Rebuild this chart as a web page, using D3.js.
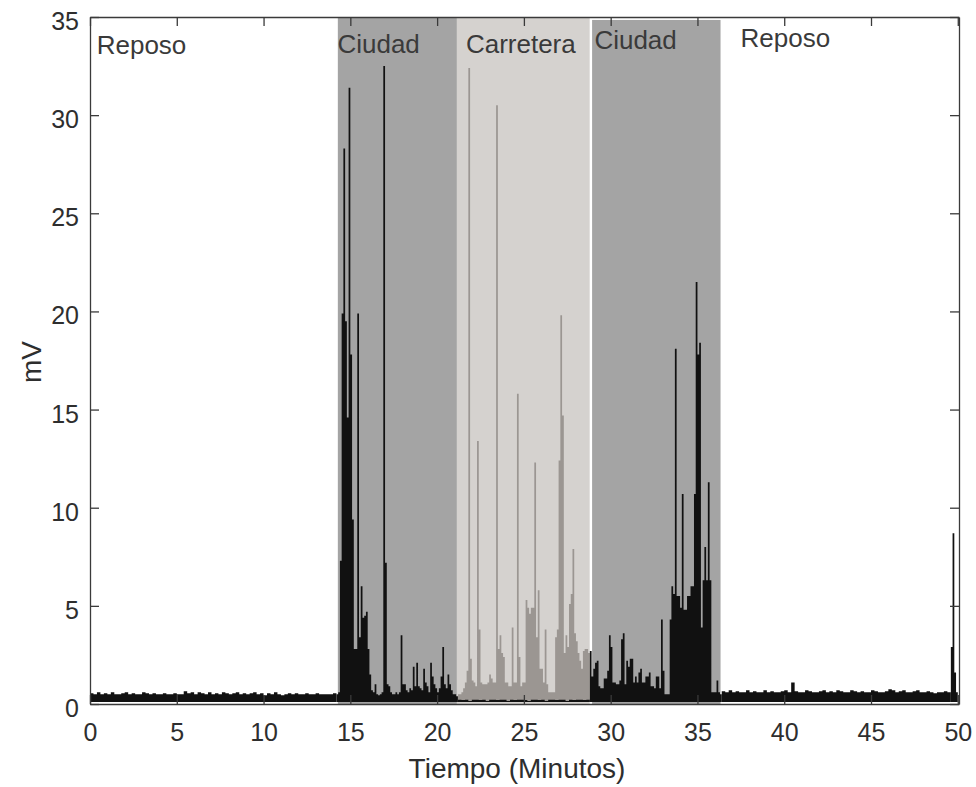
<!DOCTYPE html>
<html>
<head>
<meta charset="utf-8">
<script src="https://cdn.jsdelivr.net/npm/d3@7"></script>
<style>
  html, body { margin: 0; padding: 0; background: #ffffff; }
  svg { display: block; }
  text { font-family: "Liberation Sans", Arial, sans-serif; }
</style>
</head>
<body>
<svg id="chart" width="976" height="787"></svg>
<script>
// ---------------- DATA ----------------
const xTicks = [0, 5, 10, 15, 20, 25, 30, 35, 40, 45, 50];
const yTicks = [0, 5, 10, 15, 20, 25, 30, 35];

// condition periods (minutes)
const regionNames = ["Reposo", "Ciudad", "Carretera", "Ciudad", "Reposo"];
const regionStart = [0, 14.28, 21.14, 28.93, 36.33];
const regionEnd   = [14.28, 21.14, 28.79, 36.33, 50.07];
const regionTop   = [35, 35, 35, 34.85, 35];

// signal minimum (mV)
const signalFloor = 0.1;

// EMG envelope values (mV), each segment: start minute, step (minutes), values
const reposo1Start = 0, reposo1Step = 0.2;
const reposo1 = [0.55,0.5,0.6,0.5,0.55,0.5,0.6,0.5,0.5,0.55,0.6,0.5,0.55,0.5,0.5,0.6,0.55,0.5,0.55,0.5,
  0.5,0.55,0.5,0.5,0.55,0.5,0.5,0.65,0.55,0.6,0.5,0.6,0.55,0.5,0.6,0.5,0.55,0.5,0.6,0.55,
  0.5,0.55,0.6,0.5,0.55,0.5,0.55,0.6,0.5,0.55,0.45,0.55,0.5,0.6,0.5,0.45,0.5,0.55,0.5,0.55,
  0.5,0.5,0.55,0.5,0.5,0.55,0.5,0.5,0.5,0.5,0.55];

const ciudad1Start = 14.2, ciudad1Step = 0.1;
const ciudad1 = [0.5,0.6,7.3,19.9,28.3,19.5,14.6,31.4,17.8,9.4,2.8,2.8,19.9,3.4,6.0,4.4,4.5,4.7,2.8,1.5,
  0.7,0.6,1.0,0.5,0.45,0.5,0.6,32.5,7.2,1.0,0.9,0.6,0.5,0.5,0.6,0.5,0.6,3.5,1.0,1.0,
  0.7,0.6,0.8,0.7,1.9,0.9,2.1,0.9,0.8,0.7,1.8,1.1,0.9,0.6,2.1,1.4,1.0,0.8,0.6,0.8,
  1.4,2.9,1.0,0.8,1.5,1.0,0.7,0.5,0.5,0.4];

const carreteraStart = 21.2, carreteraStep = 0.1;
const carretera = [0.5,0.5,0.6,0.8,1.1,1.7,32.4,2.3,1.2,1.1,0.9,13.4,3.8,1.1,1.0,1.0,1.0,1.1,1.5,1.3,
  1.1,1.1,30.5,2.8,3.5,2.6,2.4,1.1,1.1,0.9,0.9,3.9,1.1,1.1,15.8,2.4,0.9,1.1,1.1,5.3,
  4.9,4.6,4.9,4.9,12.3,3.4,5.8,1.8,1.8,1.1,3.8,1.0,0.6,0.6,0.6,0.6,3.4,3.8,12.4,19.8,
  14.7,2.6,3.5,2.9,5.1,5.6,7.9,3.6,3.2,2.6,2.2,1.8,2.7,2.8,2.8,2.6];

// low-level black trace under the Carretera segment (mV), step 0.2 from 21.2
const carreteraLowStart = 21.2, carreteraLowStep = 0.2;
const carreteraLow = [0.22,0.2,0.22,0.15,0.22,0.22,0.2,0.22,0.15,0.22,0.22,0.2,0.22,0.22,0.15,0.22,0.2,0.22,0.22,0.2,
  0.15,0.22,0.22,0.2,0.22,0.15,0.22,0.22,0.2,0.22,0.22,0.15,0.22,0.2,0.22,0.22,0.2,0.22];

const ciudad2Start = 28.8, ciudad2Step = 0.1;
const ciudad2 = [2.7,1.4,1.8,2.1,2.2,0.9,0.8,0.8,1.3,1.3,1.7,3.5,2.9,1.1,1.1,1.0,1.0,1.2,3.3,3.6,
  1.0,2.2,1.9,2.3,2.3,1.1,1.4,1.1,1.6,1.8,1.1,1.1,1.4,1.4,1.6,0.9,0.9,0.8,1.4,1.4,
  0.8,4.3,1.7,0.5,0.5,0.5,4.3,6.0,5.6,18.1,5.5,5.5,4.9,10.7,4.8,4.8,5.5,5.5,6.0,6.0,
  10.7,21.5,17.8,18.4,3.9,6.3,8.0,6.3,11.3,6.3,0.6,0.6,0.6,1.2,0.6,0.5];

const reposo2Start = 36.4, reposo2Step = 0.2;
const reposo2 = [0.65,0.6,0.7,0.6,0.65,0.6,0.6,0.7,0.6,0.65,0.6,0.6,0.7,0.6,0.65,0.6,0.6,0.65,0.7,0.6,
  1.1,0.65,0.6,0.6,0.7,0.65,0.6,0.6,0.65,0.7,0.6,0.65,0.6,0.7,0.65,0.6,0.6,0.7,0.65,0.6,
  0.65,0.6,0.6,0.7,0.65,0.6,0.6,0.65,0.75,0.7,0.6,0.65,0.7,0.6,0.6,0.65,0.7,0.6,0.6,0.65,
  0.6,0.55,0.6,0.6,0.65,0.6];

const finalStart = 49.6, finalStep = 0.1;
const finalBurst = [2.9, 8.7, 1.6, 0.6];

// ---------------- LAYOUT ----------------
const svg = d3.select("#chart");
const L = 90, R = 959, T = 17, B = 704;

const x = d3.scaleLinear().domain([0, 50.07]).range([L, R]);
const y = d3.scaleLinear().domain([0, 35]).range([B, T]);

const regionFill = ["none", "#a4a4a4", "#d5d2cf", "#a4a4a4", "none"];
// label offsets relative to region start (px) and baseline y (px)
const labelDx = [6.7, -0.4, 9, 2.3, 20];
const labelY  = [54, 52.7, 52.7, 49, 46.7];

// shaded regions
const regions = regionNames.map((n, i) => ({ name: n, s: regionStart[i], e: regionEnd[i], top: regionTop[i], fill: regionFill[i], dx: labelDx[i], ly: labelY[i] }));
svg.append("g").selectAll("rect").data(regions.filter(d => d.fill !== "none")).join("rect")
  .attr("x", d => x(d.s))
  .attr("width", d => x(d.e) - x(d.s))
  .attr("y", d => y(d.top))
  .attr("height", d => y(0) - y(d.top))
  .attr("fill", d => d.fill);

// signal segments
function seg(start, step, vals) {
  const pts = vals.map((v, i) => [start + i * step, v]);
  pts.push([start + vals.length * step, vals[vals.length - 1]]);
  return pts;
}
const area = d3.area()
  .x(d => x(d[0]))
  .y0(y(signalFloor))
  .y1(d => y(d[1]))
  .curve(d3.curveStepAfter);

const segments = [
  { pts: seg(reposo1Start, reposo1Step, reposo1), color: "#111111" },
  { pts: seg(ciudad1Start, ciudad1Step, ciudad1), color: "#111111" },
  { pts: seg(carreteraStart, carreteraStep, carretera), color: "#9b9692" },
  { pts: seg(carreteraLowStart, carreteraLowStep, carreteraLow), color: "#111111" },
  { pts: seg(ciudad2Start, ciudad2Step, ciudad2), color: "#111111" },
  { pts: seg(reposo2Start, reposo2Step, reposo2), color: "#111111" },
  { pts: seg(finalStart, finalStep, finalBurst), color: "#111111" }
];
svg.append("g").selectAll("path").data(segments).join("path")
  .attr("d", d => area(d.pts))
  .attr("fill", d => d.color)
  .attr("stroke", "none");

// region labels
svg.append("g").selectAll("text").data(regions).join("text")
  .attr("x", d => x(d.s) + d.dx)
  .attr("y", d => d.ly)
  .attr("font-size", 26)
  .attr("fill", "#3a3a3a")
  .text(d => d.name);

// axes
const axisColor = "#3a3a3a";
function styleAxis(g) {
  g.selectAll("path.domain").attr("stroke", axisColor).attr("stroke-width", 1.3);
  g.selectAll(".tick line").attr("stroke", axisColor).attr("stroke-width", 1.3);
  g.selectAll(".tick text").attr("fill", "#2e2e2e").attr("font-size", 25)
    .attr("font-family", "Liberation Sans, Arial, sans-serif");
}
svg.append("g").attr("transform", `translate(0,${B})`)
  .call(d3.axisBottom(x).tickValues(xTicks).tickSizeInner(-9).tickSizeOuter(0).tickPadding(19))
  .call(styleAxis);
svg.append("g").attr("transform", `translate(0,${T})`)
  .call(d3.axisTop(x).tickValues(xTicks).tickSizeInner(-9).tickSizeOuter(0).tickFormat(""))
  .call(styleAxis);
svg.append("g").attr("transform", `translate(${L},0)`)
  .call(d3.axisLeft(y).tickValues(yTicks).tickSizeInner(-9).tickSizeOuter(0).tickPadding(11))
  .call(styleAxis)
  .selectAll(".tick text").attr("dy", "0.5em");
svg.append("g").attr("transform", `translate(${R},0)`)
  .call(d3.axisRight(y).tickValues(yTicks).tickSizeInner(-9).tickSizeOuter(0).tickFormat(""))
  .call(styleAxis);

// axis titles
svg.append("text")
  .attr("x", 517).attr("y", 778)
  .attr("text-anchor", "middle")
  .attr("font-size", 28)
  .attr("fill", "#2e2e2e")
  .text("Tiempo (Minutos)");
svg.append("text")
  .attr("transform", "translate(41,362) rotate(-90)")
  .attr("text-anchor", "middle")
  .attr("font-size", 28)
  .attr("fill", "#2e2e2e")
  .text("mV");
</script>
</body>
</html>
